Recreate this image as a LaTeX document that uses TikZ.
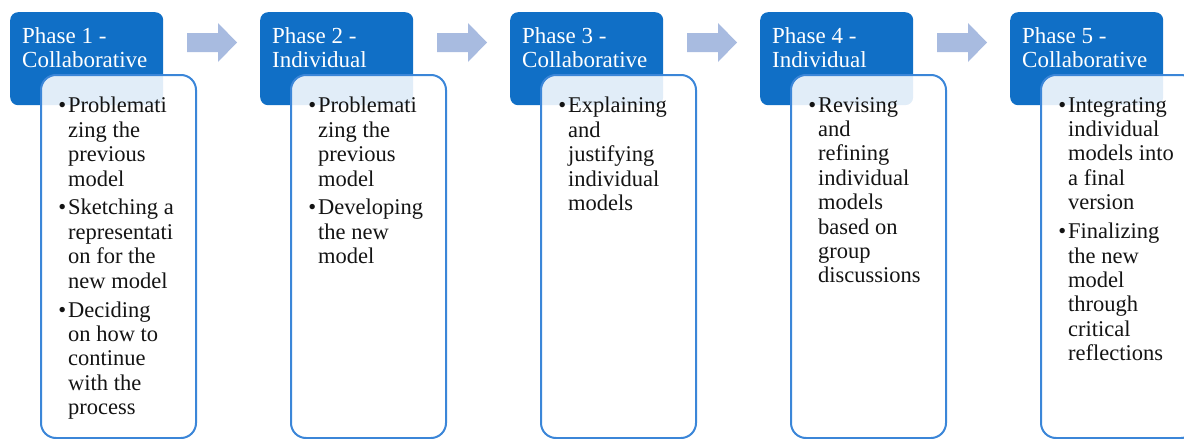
\documentclass[tikz,border=0pt]{standalone}
\usepackage{fontspec}
\setmainfont{Liberation Serif}
\definecolor{hdrblue}{RGB}{16,111,198}
\definecolor{bodyblue}{RGB}{59,134,216}
\definecolor{arrowc}{RGB}{168,187,224}
\definecolor{txt}{RGB}{20,20,20}
\newcommand\bl{\llap{•\hspace{2pt}}}
\begin{document}
\begin{tikzpicture}[x=1pt,y=-1pt,
  hdr/.style={anchor=north west, fill=hdrblue, draw=none, rounded corners=8pt,
    minimum width=153pt, minimum height=93pt, inner sep=0pt},
  bodybox/.style={anchor=north west, draw=bodyblue, line width=2pt, fill=white, fill opacity=0.88,
    rounded corners=15pt, minimum width=155pt, minimum height=363pt, inner sep=0pt},
  htext/.style={anchor=north west, inner sep=0pt, align=left, text=white,
    font=\fontsize{23}{24}\selectfont},
  btext/.style={anchor=north west, inner sep=0pt, align=left, text=txt,
    font=\fontsize{22.5}{24.4}\selectfont},
  blockarrow/.style={fill=arrowc, draw=none}
]
\useasboundingbox (0,0) rectangle (1184,439);

% Phase 1
\node[hdr] (h1) at (10,12) {};
\node[htext] (ht1) at (22,27) {Phase 1 -\\Collaborative};
\node[bodybox] (b1) at (40,74) {};
\node[btext] (bt1) at (68,97) {\bl Problemati\\zing the\\previous\\model\\[4.5pt]\bl Sketching a\\representati\\on for the\\new model\\[4.5pt]\bl Deciding\\on how to\\continue\\with the\\process};

% Phase 2
\node[hdr] (h2) at (260,12) {};
\node[htext] (ht2) at (272,27) {Phase 2 -\\Individual};
\node[bodybox] (b2) at (290,74) {};
\node[btext] (bt2) at (318,97) {\bl Problemati\\zing the\\previous\\model\\[4.5pt]\bl Developing\\the new\\model};

% Phase 3
\node[hdr] (h3) at (510,12) {};
\node[htext] (ht3) at (522,27) {Phase 3 -\\Collaborative};
\node[bodybox] (b3) at (540,74) {};
\node[btext] (bt3) at (568,97) {\bl Explaining\\and\\justifying\\individual\\models};

% Phase 4
\node[hdr] (h4) at (760,12) {};
\node[htext] (ht4) at (772,27) {Phase 4 -\\Individual};
\node[bodybox] (b4) at (790,74) {};
\node[btext] (bt4) at (818,97) {\bl Revising\\and\\refining\\individual\\models\\based on\\group\\discussions};

% Phase 5
\node[hdr] (h5) at (1010,12) {};
\node[htext] (ht5) at (1022,27) {Phase 5 -\\Collaborative};
\node[bodybox] (b5) at (1040,74) {};
\node[btext] (bt5) at (1068,97) {\bl Integrating\\individual\\models into\\a final\\version\\[4.5pt]\bl Finalizing\\the new\\model\\through\\critical\\reflections};

% Block arrows between phases
\foreach \i in {0,1,2,3}{
  \coordinate (a\i) at ({187+250*\i},33);
  \fill[blockarrow] (a\i) -- ++(31,0) -- ++(0,-10) -- ++(19,19.5) -- ++(-19,19.5) -- ++(0,-10) -- ++(-31,0) -- cycle;
}
\end{tikzpicture}
\end{document}
